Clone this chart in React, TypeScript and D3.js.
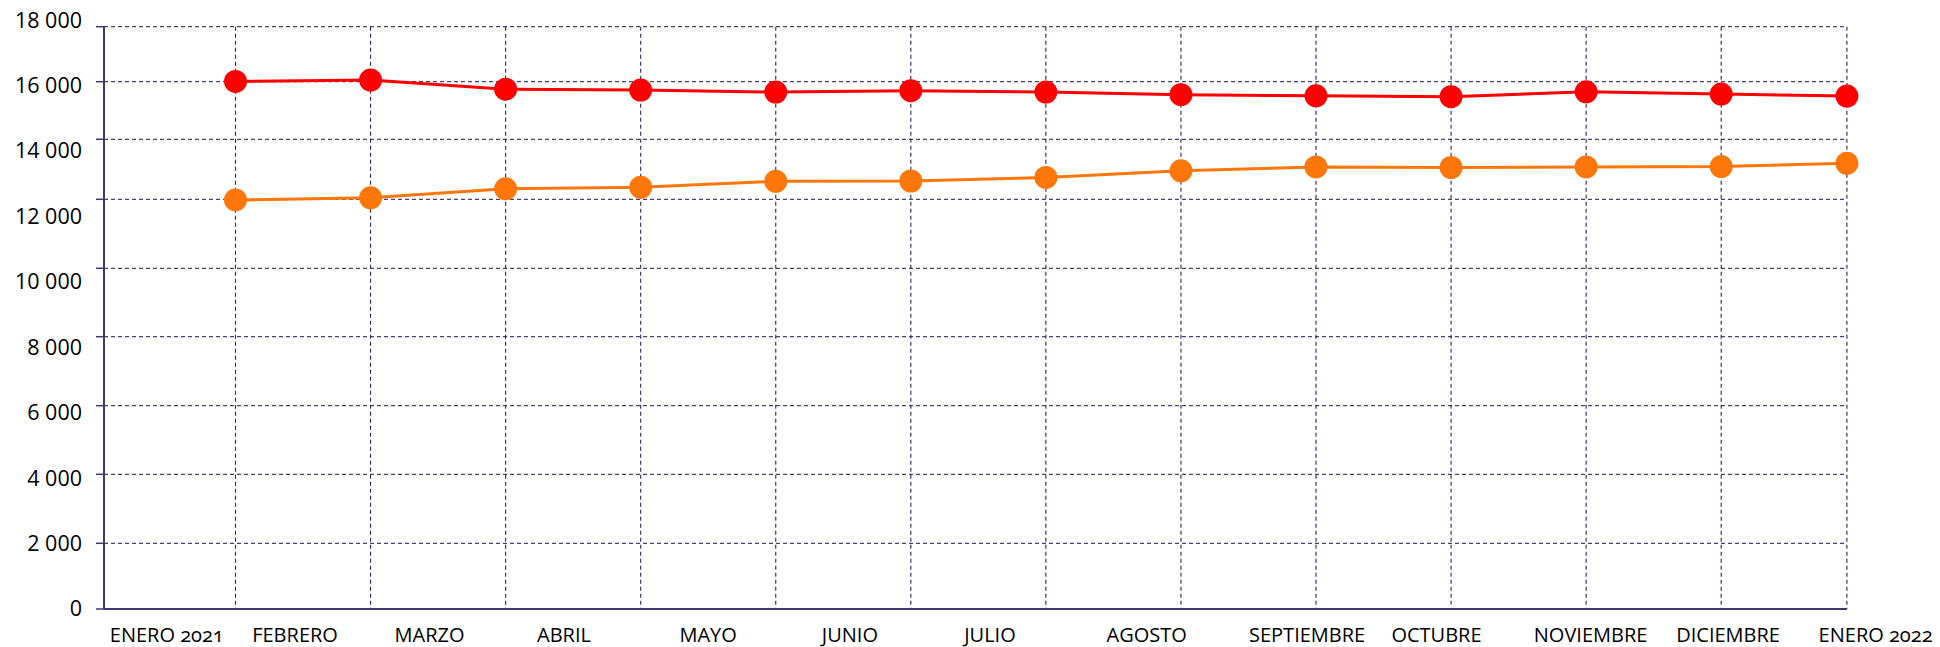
import React from 'react';
import * as d3 from 'd3';

const months = ['ENERO 2021', 'FEBRERO', 'MARZO', 'ABRIL', 'MAYO', 'JUNIO', 'JULIO', 'AGOSTO', 'SEPTIEMBRE', 'OCTUBRE', 'NOVIEMBRE', 'DICIEMBRE', 'ENERO 2022'];
const redValues = [16010, 16060, 15740, 15710, 15640, 15690, 15640, 15550, 15510, 15480, 15650, 15570, 15500];
const orangeValues = [11980, 12050, 12350, 12400, 12600, 12610, 12730, 12950, 13080, 13060, 13080, 13090, 13200];
const yTicks = [0, 2000, 4000, 6000, 8000, 10000, 12000, 14000, 16000, 18000];

const W = 1940;
const H = 647;
const plotLeft = 104;
// the source image is unevenly stretched, so the grid rows and columns sit where they sit in it
const gridRows = [609, 543.3, 474.3, 405.7, 336.7, 268.3, 199.3, 139.3, 81.7, 26.7];
const gridCols = [235.5, 1721.2, 1846.9];

const AXIS = '#3d3870';
const FONT = '"Open Sans", sans-serif';

const fmt = (v: number) => d3.format(',')(v).replace(/,/g, ' ');

const Series = ({ values, x, y, color }) => {
	const line = d3.line<number>()
		.x((d, i) => x(i))
		.y(d => y(d));
	return (
		<g>
			<path d={line(values) || ''} fill='none' stroke={color} strokeWidth={3} />
			{values.map((v, i) => (
				<circle key={i} cx={x(i)} cy={y(v)} r={11.5} fill={color} />
			))}
		</g>
	);
};

const App = () => {
	const y = d3.scaleLinear().domain(yTicks).range(gridRows);
	const yLabel = d3.scaleLinear().domain([0, 18000]).range([608.7, 19.8]);
	const x = d3.scaleLinear()
		.domain([0, months.length - 2, months.length - 1])
		.range(gridCols);
	const band = d3.scaleBand<string>()
		.domain(months)
		.range([109.8, 109.8 + months.length * 142.4]);

	const plotRight = x(months.length - 1);
	const plotTop = y(18000);
	const plotBottom = y(0);

	return (
		<svg width={W} height={H} style={{ position: 'absolute', left: 0, top: 0, display: 'block' }}>
			<rect width={W} height={H} fill='white' />

			{yTicks.filter(t => t > 0).map(t => (
				<line key={t} x1={plotLeft} x2={plotRight} y1={y(t)} y2={y(t)}
					stroke='#47427a' strokeWidth={1.3} strokeDasharray='4 3' />
			))}
			{months.map((m, i) => (
				<line key={m} x1={x(i)} x2={x(i)} y1={plotTop} y2={plotBottom}
					stroke='#2a265c' strokeWidth={1.1} strokeDasharray='4 3' />
			))}

			{yTicks.map(t => (
				<line key={t} x1={plotLeft - 8} x2={plotLeft} y1={y(t)} y2={y(t)} stroke={AXIS} strokeWidth={1.5} />
			))}
			<line x1={plotLeft} x2={plotLeft} y1={plotTop} y2={plotBottom} stroke={AXIS} strokeWidth={2} />
			<line x1={plotLeft} x2={plotRight} y1={plotBottom} y2={plotBottom} stroke={AXIS} strokeWidth={2} />

			{yTicks.map(t => (
				<text key={t} x={82} y={yLabel(t)} dy='0.36em' textAnchor='end'
					fontFamily={FONT} fontSize={21.5} fontWeight={500} fill='#000'>
					{fmt(t)}
				</text>
			))}
			{months.map(m => (
				<text key={m} x={band(m)} y={641.7} textAnchor='start'
					fontFamily={FONT} fontSize={20} fontWeight={500} fill='#000'
					style={{ fontVariantNumeric: 'oldstyle-nums' }}>
					{m}
				</text>
			))}

			<Series values={orangeValues} x={x} y={y} color='#FF760A' />
			<Series values={redValues} x={x} y={y} color='#FF0000' />
		</svg>
	);
};

export default App;
